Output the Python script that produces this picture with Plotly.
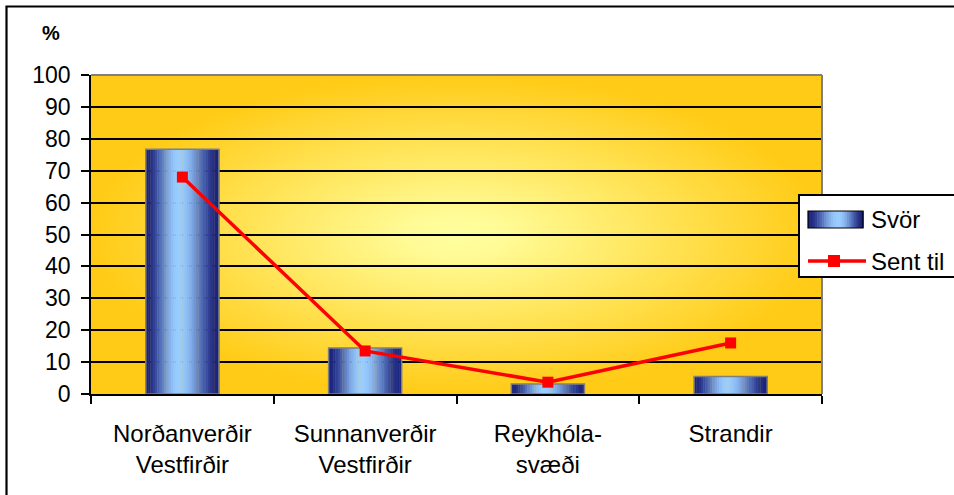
import base64
import numpy as np
import plotly.graph_objects as go

# ---- data -------------------------------------------------------------
regions = ["Norðanverðir<br>Vestfirðir", "Sunnanverðir<br>Vestfirðir",
           "Reykhóla-<br>svæði", "Strandir"]
svor = [76.7, 14.4, 3.1, 5.5]          # share of responses (%)
sent_til = [68.0, 13.5, 3.7, 16.0]     # share of questionnaires sent (%)
y_ticks = list(range(0, 101, 10))
series_names = ["Svör", "Sent til"]
y_title = "%"

# ---- geometry helpers (pixel -> paper coordinates) --------------------
W, H = 954, 495
PLOT_L, PLOT_R, PLOT_T, PLOT_B = 91, 822, 75, 394


def px_x(p):
    return (p - PLOT_L) / (PLOT_R - PLOT_L)


def px_y(p):
    return (PLOT_B - p) / (PLOT_B - PLOT_T)


FONT = "Liberation Sans, Arial, sans-serif"
DARK = np.array([26, 34, 124])
LIGHT = np.array([153, 204, 255])


def cylinder_color(t, peak=0.45):
    """Colour across a cylinder-shaded bar, t in [0, 1] from left to right."""
    d = (t - peak) / peak if t < peak else (t - peak) / (1 - peak)
    k = (0.5 * (1 + np.cos(np.pi * min(abs(d), 1.0)))) ** 0.9
    c = DARK + (LIGHT - DARK) * k
    return "rgb(%d,%d,%d)" % tuple(int(v) for v in np.round(c))


# radial gold background for the plot area
bg_svg = (
    '<svg xmlns="http://www.w3.org/2000/svg" viewBox="0 0 100 100" '
    'preserveAspectRatio="none"><defs>'
    '<radialGradient id="g" cx="0.5" cy="0.5" r="0.5">'
    '<stop offset="0" stop-color="#FFFF9E"/>'
    '<stop offset="0.12" stop-color="#FFFC98"/>'
    '<stop offset="1" stop-color="#FFCB16"/>'
    '</radialGradient></defs>'
    '<rect width="100" height="100" fill="url(#g)"/></svg>'
)
bg_uri = "data:image/svg+xml;base64," + base64.b64encode(bg_svg.encode()).decode()

fig = go.Figure()

# ---- cylinder-shaded bars built from thin slices ----------------------
BAR_W = 0.4
N_SLICES = 32
for i in range(N_SLICES):
    t = (i + 0.5) / N_SLICES
    fig.add_trace(go.Bar(
        x=regions, y=svor,
        width=BAR_W / N_SLICES * 1.15,
        offset=-BAR_W / 2 + i * BAR_W / N_SLICES,
        marker=dict(color=cylinder_color(t), line=dict(width=0)),
        showlegend=False, hoverinfo="skip",
    ))

# bar outline
fig.add_trace(go.Bar(
    x=regions, y=svor, width=BAR_W, offset=-BAR_W / 2,
    marker=dict(color="rgba(0,0,0,0)", line=dict(color="#7f7f7f", width=1.5)),
    name=series_names[0], showlegend=False,
))

# line series
fig.add_trace(go.Scatter(
    x=regions, y=sent_til, mode="lines+markers",
    line=dict(color="#FF0000", width=3.5),
    marker=dict(symbol="square", size=11, color="#FF0000"),
    name=series_names[1], showlegend=False,
))

# ---- frames, legend box and keys --------------------------------------
shapes = [
    # outer chart border (left and top visible)
    dict(type="rect", xref="paper", yref="paper",
         x0=px_x(6.5), x1=px_x(1200), y0=px_y(700), y1=px_y(6.5),
         line=dict(color="black", width=2.2), fillcolor="rgba(0,0,0,0)"),
    # plot-area frame, top and right
    dict(type="line", xref="paper", yref="paper", x0=0, x1=1, y0=1, y1=1,
         line=dict(color="#808080", width=2)),
    dict(type="line", xref="paper", yref="paper", x0=1, x1=1, y0=0, y1=1,
         line=dict(color="#808080", width=2)),
    # legend box
    dict(type="rect", xref="paper", yref="paper",
         x0=px_x(799), x1=px_x(1200), y0=px_y(277), y1=px_y(195),
         line=dict(color="black", width=2), fillcolor="white"),
]

SW_L, SW_R, SW_T, SW_B = 808, 863, 211, 228
n_key = 24
for i in range(n_key):
    t = (i + 0.5) / n_key
    shapes.append(dict(
        type="rect", xref="paper", yref="paper",
        x0=px_x(SW_L + i * (SW_R - SW_L) / n_key),
        x1=px_x(SW_L + (i + 1) * (SW_R - SW_L) / n_key + 0.6),
        y0=px_y(SW_B), y1=px_y(SW_T),
        fillcolor=cylinder_color(t, peak=0.55), line=dict(width=0)))
shapes.append(dict(type="rect", xref="paper", yref="paper",
                   x0=px_x(SW_L), x1=px_x(SW_R), y0=px_y(SW_B), y1=px_y(SW_T),
                   line=dict(color="black", width=1.2),
                   fillcolor="rgba(0,0,0,0)"))
LN_Y = 261
shapes.append(dict(type="line", xref="paper", yref="paper",
                   x0=px_x(808), x1=px_x(866), y0=px_y(LN_Y), y1=px_y(LN_Y),
                   line=dict(color="#FF0000", width=3.5)))
shapes.append(dict(type="rect", xref="paper", yref="paper",
                   x0=px_x(828), x1=px_x(840), y0=px_y(LN_Y + 6), y1=px_y(LN_Y - 6),
                   fillcolor="#FF0000", line=dict(width=0)))

annotations = [
    dict(text="<b>%s</b>" % y_title, xref="paper", yref="paper",
         x=px_x(51), y=px_y(33), xanchor="center", yanchor="middle",
         showarrow=False, font=dict(family=FONT, size=20, color="black")),
    dict(text=series_names[0], xref="paper", yref="paper",
         x=px_x(869), y=px_y(219), xanchor="left", yanchor="middle",
         showarrow=False, font=dict(family=FONT, size=24, color="black")),
    dict(text=series_names[1], xref="paper", yref="paper",
         x=px_x(869), y=px_y(261), xanchor="left", yanchor="middle",
         showarrow=False, font=dict(family=FONT, size=24, color="black")),
]

fig.update_layout(
    width=W, height=H,
    margin=dict(l=PLOT_L, r=W - PLOT_R, t=PLOT_T, b=H - PLOT_B, pad=0),
    paper_bgcolor="white", plot_bgcolor="#FFD84A",
    barmode="overlay",
    showlegend=False,
    font=dict(family=FONT, color="black"),
    images=[dict(source=bg_uri, xref="paper", yref="paper", x=0, y=1,
                  sizex=1, sizey=1, xanchor="left", yanchor="top",
                  sizing="stretch", layer="below")],
    shapes=shapes,
    annotations=annotations,
    xaxis=dict(
        type="category", range=[-0.5, 3.5],
        tickson="boundaries", ticks="outside", ticklen=8, tickwidth=1.5,
        tickcolor="black", showline=True, linecolor="black", linewidth=1.5,
        showgrid=False, tickfont=dict(family=FONT, size=24, color="black"),
        ticklabelstandoff=17, automargin=False,
    ),
    yaxis=dict(
        range=[0, 100], tickvals=y_ticks, ticks="outside", ticklen=8,
        tickwidth=1.5, tickcolor="black", showline=True, linecolor="black",
        linewidth=1.5, showgrid=True, gridcolor="black", gridwidth=1.5,
        zeroline=False, tickfont=dict(family=FONT, size=23, color="black"),
        ticklabelstandoff=6, automargin=False,
    ),
)

fig.write_html("out.html")
